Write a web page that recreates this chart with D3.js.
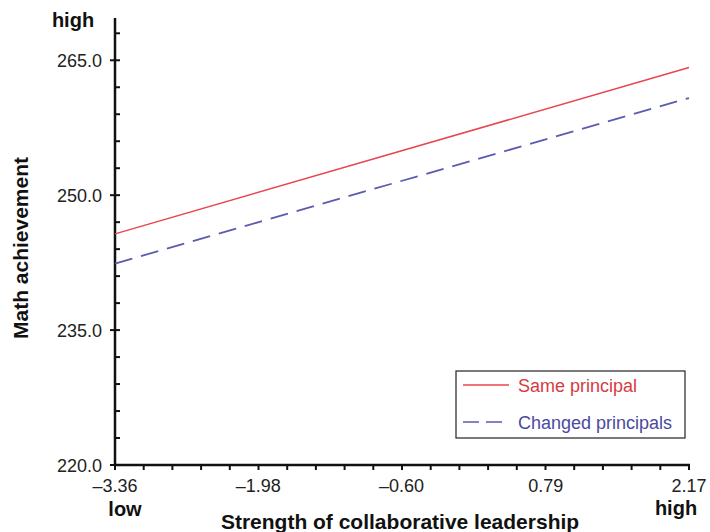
<!DOCTYPE html>
<html>
<head>
<meta charset="utf-8">
<script src="https://cdn.jsdelivr.net/npm/d3@7"></script>
<style>
  body { margin: 0; background: #fff; }
  text { font-family: "Liberation Sans", Arial, sans-serif; }
</style>
</head>
<body>
<div id="chart"></div>
<script>
// x values (collaborative leadership) at the two ends
var xEnds = [-3.36, 2.17];
var xTickVals = [-3.36, -1.98, -0.60, 0.79, 2.17];
var yTickVals = [220, 235, 250, 265];
var seriesNames = ["Same principal", "Changed principals"];
var samePrincipal = [245.7, 264.2];
var changedPrincipals = [242.4, 260.8];

var width = 710, height = 532;
var svg = d3.select("#chart").append("svg")
  .attr("width", width)
  .attr("height", height);

var x = d3.scaleLinear().domain([-3.36, 2.17]).range([115, 689]);
var y = d3.scaleLinear().domain([220, 269.7]).range([465, 18]);

// minor ticks
var xMinor = d3.range(0, 21).map(i => -3.36 + i * (5.53 / 20));
var yMinor = d3.range(0, 17).map(i => 220 + i * 3);

var gx = svg.append("g").attr("transform", "translate(0,465)");
gx.selectAll("line.minor").data(xMinor).enter().append("line")
  .attr("x1", d => x(d)).attr("x2", d => x(d))
  .attr("y1", 0).attr("y2", 5)
  .attr("stroke", "#111").attr("stroke-width", 2);
gx.append("line")
  .attr("x1", x.range()[0] - 1).attr("x2", x.range()[1] + 1)
  .attr("stroke", "#111").attr("stroke-width", 2.5);
gx.selectAll("text").data(xTickVals).enter().append("text")
  .attr("x", d => x(d)).attr("y", 27)
  .attr("text-anchor", "middle")
  .attr("font-size", 18).attr("fill", "#222")
  .text(d => d.toFixed(2).replace("-", "\u2013"));

var gy = svg.append("g").attr("transform", "translate(115,0)");
gy.selectAll("line.minor").data(yMinor).enter().append("line")
  .attr("x1", 0).attr("x2", 5)
  .attr("y1", d => y(d)).attr("y2", d => y(d))
  .attr("stroke", "#111").attr("stroke-width", 2);
gy.append("line")
  .attr("y1", y.range()[1]).attr("y2", y.range()[0] + 1)
  .attr("stroke", "#111").attr("stroke-width", 2.5);
gy.selectAll("line.major").data(yTickVals).enter().append("line")
  .attr("x1", -5).attr("x2", 0)
  .attr("y1", d => y(d)).attr("y2", d => y(d))
  .attr("stroke", "#111").attr("stroke-width", 2);
gy.selectAll("text").data(yTickVals).enter().append("text")
  .attr("x", -13).attr("y", d => y(d) + 7)
  .attr("text-anchor", "end")
  .attr("font-size", 18).attr("fill", "#222")
  .text(d => d.toFixed(1));

// end labels
svg.append("text").attr("x", 73).attr("y", 27)
  .attr("font-size", 20).attr("font-weight", "bold").attr("fill", "#111")
  .attr("text-anchor", "middle").text("high");
svg.append("text").attr("x", 125).attr("y", 516)
  .attr("font-size", 20).attr("font-weight", "bold").attr("fill", "#111")
  .attr("text-anchor", "middle").text("low");
svg.append("text").attr("x", 676).attr("y", 515)
  .attr("font-size", 20).attr("font-weight", "bold").attr("fill", "#111")
  .attr("text-anchor", "middle").text("high");

// axis titles
svg.append("text").attr("x", 400).attr("y", 529)
  .attr("font-size", 21).attr("font-weight", "bold").attr("fill", "#111")
  .attr("text-anchor", "middle").text("Strength of collaborative leadership");
svg.append("text")
  .attr("transform", "translate(28,248) rotate(-90)")
  .attr("font-size", 21).attr("font-weight", "bold").attr("fill", "#111")
  .attr("text-anchor", "middle").text("Math achievement");

// lines
var line = d3.line().x((d, i) => x(xEnds[i])).y(d => y(d));
svg.append("path").datum(samePrincipal)
  .attr("d", line).attr("fill", "none")
  .attr("stroke", "#e8464e").attr("stroke-width", 1.5);
svg.append("path").datum(changedPrincipals)
  .attr("d", line).attr("fill", "none")
  .attr("stroke", "#5b5bb0").attr("stroke-width", 1.8)
  .attr("stroke-dasharray", "18,9");

// legend
var lg = svg.append("g").attr("transform", "translate(456,371)");
lg.append("rect").attr("width", 229).attr("height", 67)
  .attr("fill", "#fff").attr("stroke", "#222").attr("stroke-width", 1.2);
var colors = ["#e8464e", "#5b5bb0"];
var textColors = ["#d93a42", "#4a4aa0"];
var dashes = [null, "16,7"];
seriesNames.forEach(function(name, i) {
  var yy = 14 + i * 37;
  lg.append("line").attr("x1", 7).attr("x2", 53)
    .attr("y1", yy).attr("y2", yy)
    .attr("stroke", colors[i]).attr("stroke-width", 1.6)
    .attr("stroke-dasharray", dashes[i]);
  lg.append("text").attr("x", 62).attr("y", yy + 7)
    .attr("font-size", 18).attr("fill", textColors[i])
    .text(name);
});
</script>
</body>
</html>
